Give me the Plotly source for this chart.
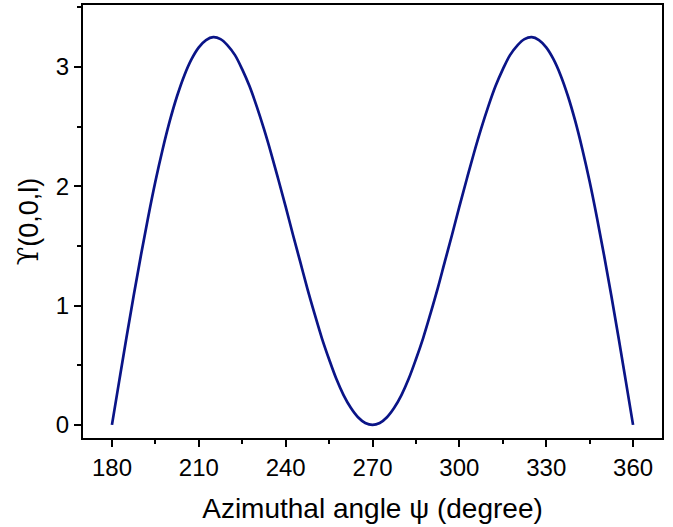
import plotly.graph_objects as go

# Azimuthal angle (degree) and values
psi = [180, 182.5, 185, 187.5, 190, 192.5, 195, 197.5, 200, 202.5, 205, 207.5, 210, 212.5, 215, 217.5,
       220, 222.5, 225, 227.5, 230, 232.5, 235, 237.5, 240, 242.5, 245, 247.5, 250, 252.5, 255, 257.5,
       260, 262.5, 265, 267.5, 270]
rise_half = [0.0, 0.367, 0.73, 1.083, 1.42, 1.741, 2.04, 2.309, 2.55, 2.757, 2.93, 3.066, 3.165, 3.226, 3.25, 3.234,
             3.18, 3.10, 2.98, 2.84, 2.67, 2.481, 2.275, 2.055, 1.83, 1.596, 1.37, 1.142, 0.93, 0.728, 0.55, 0.386,
             0.25, 0.143, 0.064, 0.016, 0.0]
# second half (270..360) read as the mirror image of the first
psi2 = [270 + (270 - p) for p in reversed(psi[:-1])]
upsilon = rise_half + list(reversed(rise_half[:-1]))
psi_all = psi + psi2

x_ticks = [180, 210, 240, 270, 300, 330, 360]
y_ticks = [0, 1, 2, 3]

fig = go.Figure()
fig.add_trace(go.Scatter(x=psi_all, y=upsilon, mode="lines",
                         line=dict(color="#0a1487", width=2.7, shape="spline", smoothing=1.0),
                         showlegend=False, hoverinfo="skip"))

font_family = "Liberation Sans, Arial, sans-serif"
fig.update_layout(
    width=673, height=527,
    margin=dict(l=83, r=11, t=5, b=89),
    paper_bgcolor="white", plot_bgcolor="white",
    font=dict(family=font_family, color="black"),
)
fig.update_xaxes(
    range=[170, 370], tickvals=x_ticks, ticktext=[str(v) for v in x_ticks],
    ticks="outside", ticklen=7, tickwidth=1.5, tickcolor="black",
    minor=dict(dtick=15, tick0=180, ticks="outside", ticklen=4, tickwidth=1.5, tickcolor="black"),
    showline=True, linecolor="black", linewidth=2, mirror=True,
    showgrid=False, zeroline=False, automargin=False,
    tickfont=dict(size=24, family=font_family),
    title=dict(text="Azimuthal angle ψ (degree)", font=dict(size=28, family=font_family), standoff=19),
)
fig.update_yaxes(
    range=[-0.11, 3.52], tickvals=y_ticks, ticktext=[str(v) for v in y_ticks],
    ticks="outside", ticklen=7, tickwidth=1.5, tickcolor="black",
    minor=dict(dtick=0.5, tick0=0, ticks="outside", ticklen=4, tickwidth=1.5, tickcolor="black"),
    showline=True, linecolor="black", linewidth=2, mirror=True,
    showgrid=False, zeroline=False, automargin=False,
    tickfont=dict(size=24, family=font_family),
    title=dict(text='<span style="font-family:DejaVu Serif">ϒ</span>(0,0,l)',
               font=dict(size=27, family=font_family), standoff=9),
)

fig.write_html("out.html", config={"displayModeBar": False},
               post_script="document.body.style.margin='0';document.body.style.overflow='hidden';")
